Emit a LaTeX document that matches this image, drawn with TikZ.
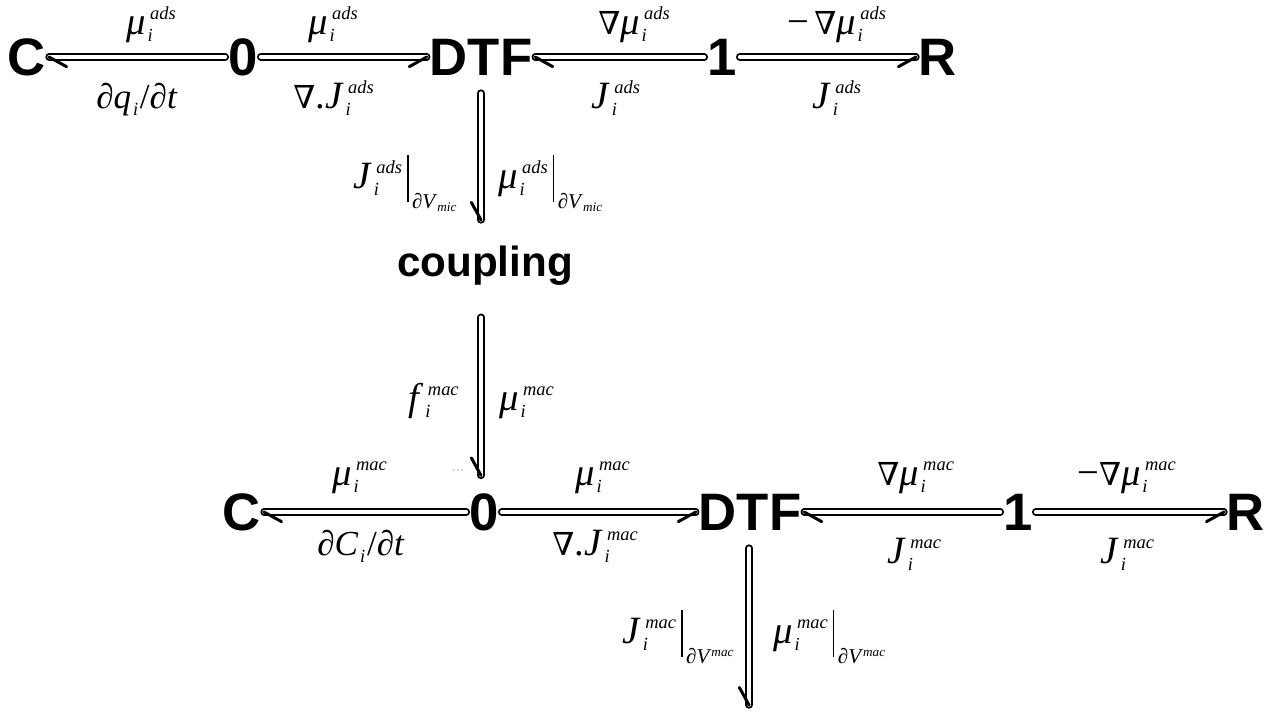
\documentclass[tikz,border=0pt]{standalone}
\usepackage{fontspec}
\setmainfont{Liberation Serif}
\newfontfamily\elemfont{Liberation Sans}
\newfontfamily\nabfont{DejaVu Serif}
\usetikzlibrary{decorations.markings}
\definecolor{DotGray}{RGB}{200,200,200}
\newcommand{\supfont}{\fontsize{10.5}{12}\selectfont\itshape}
\newcommand{\tinyfont}{\fontsize{7.5}{9}\selectfont\itshape}
\newcommand{\nab}{{\nabfont\fontsize{18}{20}\selectfont ∇}}
\newcommand{\lab}[2]{\textit{#1}\rlap{\raisebox{-4pt}{\hspace{1pt}\supfont i}}\raisebox{8pt}{\hspace{2.5pt}\supfont #2}}
\newcommand{\restr}[1]{\hspace{3pt}\rule[-8pt]{0.7pt}{27pt}\hspace{2pt}\raisebox{-11.5pt}{\fontsize{12}{14}\selectfont #1}}
\tikzset{
  elem/.style={font=\elemfont\bfseries\fontsize{30}{32}\selectfont,inner xsep=1.5pt,inner ysep=10pt},
  couple/.style={font=\elemfont\bfseries\fontsize{24}{26}\selectfont,inner xsep=0pt,inner ysep=14.5pt},
  lbl/.style={anchor=base west,inner sep=0pt,font=\fontsize{22}{24}\selectfont},
  bond/.style={draw=black,line width=1.1pt,double=white,double distance=2pt,line cap=round},
  barb/.style={draw=black,line width=1.7pt,line cap=round},
  bondleft/.style={bond,postaction={decorate,decoration={markings,
    mark=at position 1 with {\draw[barb] (0,0) -- (-10pt,5.5pt);}}}},
  bondright/.style={bond,postaction={decorate,decoration={markings,
    mark=at position 1 with {\draw[barb] (0,0) -- (-10pt,-5.5pt);}}}}
}
\begin{document}
\begin{tikzpicture}[x=0.02cm,y=-0.02cm]
  \useasboundingbox (0,0) rectangle (1277,711);
  \node[elem] (ca) at (27,57) {C};
  \node[elem] (za) at (243,57) {0};
  \node[elem] (da) at (481,57) {DTF};
  \node[elem] (oa) at (722,57) {1};
  \node[elem] (ra) at (938,57) {R};
  \node[couple] (cp) at (485,265.5) {coupling};
  \node[elem] (cb) at (242,512) {C};
  \node[elem] (zb) at (484,512) {0};
  \node[elem] (db) at (750,512) {DTF};
  \node[elem] (ob) at (1018,512) {1};
  \node[elem] (rb) at (1246,512) {R};
  \coordinate (eb) at (749,705);
  \draw[bondleft] (za) -- (ca);
  \draw[bondright] (za) -- (da);
  \draw[bondleft] (oa) -- (da);
  \draw[bondright] (oa) -- (ra);
  \draw[bondright] (da.south -| 481,0) -- (cp.north -| 481,0);
  \draw[bondright] ([yshift=-3.5pt]cp.south -| 481,0) -- (zb.north -| 481,0);
  \draw[bondleft] (zb) -- (cb);
  \draw[bondright] (zb) -- (db);
  \draw[bondleft] (ob) -- (db);
  \draw[bondright] (ob) -- (rb);
  \draw[bondright] (db.south -| eb) -- (eb);
  \node[lbl] (la) at (126,34) {\lab{μ}{ads}};
  \node[lbl] (lb) at (308,34) {\lab{μ}{ads}};
  \node[lbl,font=\fontsize{20}{22}\selectfont] (lc) at (96,108) {∂\textit{q}\raisebox{-4pt}{\hspace{1pt}\supfont i}\hspace{1pt}/∂\textit{t}};
  \node[lbl] (ld) at (293,108) {\nab.\lab{\textit{J}}{ads}};
  \node[lbl] (le) at (598,34) {\nab\lab{μ}{ads}};
  \node[lbl] (lf) at (591,108) {\lab{\textit{J}}{ads}};
  \node[lbl] (lg) at (787,34) {−\hspace{3pt}\nab\lab{μ}{ads}};
  \node[lbl] (lh) at (812,108) {\lab{\textit{J}}{ads}};
  \node[lbl] (li) at (353,188) {\lab{\textit{J}}{ads}\restr{∂\textit{V}\raisebox{-2pt}{\tinyfont mic}}};
  \node[lbl] (lj) at (498,188) {\lab{μ}{ads}\restr{∂\textit{V}\raisebox{-2pt}{\tinyfont mic}}};
  \node[lbl] (lk) at (408,410) {\lab{\textit{f}}{mac}};
  \node[lbl] (ll) at (499,410) {\lab{μ}{mac}};
  \node[lbl] (lm) at (332,485) {\lab{μ}{mac}};
  \node[lbl] (ln) at (575,485) {\lab{μ}{mac}};
  \node[lbl,font=\fontsize{20}{22}\selectfont] (lo) at (317,555) {∂\textit{C}\raisebox{-4pt}{\hspace{1pt}\supfont i}\hspace{1pt}/∂\textit{t}};
  \node[lbl] (lp) at (552,555) {\nab.\lab{\textit{J}}{mac}};
  \node[lbl] (lq) at (877,485) {\nab\lab{μ}{mac}};
  \node[lbl] (lr) at (887,563) {\lab{\textit{J}}{mac}};
  \node[lbl] (ls) at (1077,485) {−\nab\lab{μ}{mac}};
  \node[lbl] (lt) at (1100,563) {\lab{\textit{J}}{mac}};
  \node[lbl] (lu) at (622,643) {\lab{\textit{J}}{mac}\restr{∂\textit{V}\raisebox{4pt}{\tinyfont mac}}};
  \node[lbl] (lv) at (773,643) {\lab{μ}{mac}\restr{∂\textit{V}\raisebox{4pt}{\tinyfont mac}}};
  \node[anchor=base west,inner sep=0pt,DotGray,font=\fontsize{10}{11}\selectfont] (dots) at (451,471) {...};
\end{tikzpicture}
\end{document}
